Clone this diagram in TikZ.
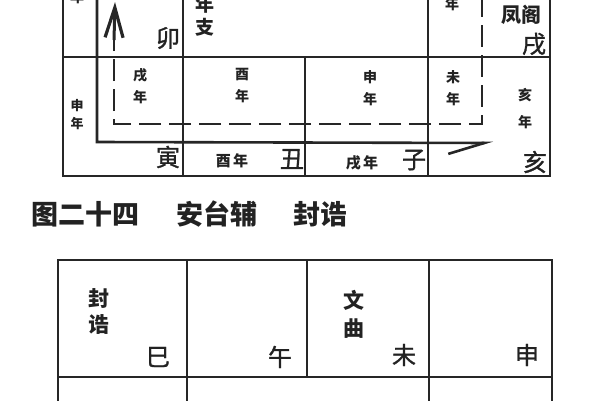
\documentclass[tikz,border=0pt]{standalone}
\usepackage{fontspec}
\newfontfamily\cjk{Noto Sans CJK SC}
\newfontfamily\cjkmed[FakeBold=1.2]{Noto Sans CJK SC}
\usetikzlibrary{arrows.meta}
\definecolor{ink}{HTML}{262626}
\definecolor{txt}{HTML}{222222}
\begin{document}
\begin{tikzpicture}[x=1pt,y=-1pt,
  grid/.style={line width=2.2pt, draw=ink, line cap=rect},
  dashline/.style={line width=2.6pt, draw=ink, dash pattern=on 22pt off 8pt},
  branch/.style={font=\cjkmed\fontsize{24}{24}\selectfont, text=txt, inner sep=0pt},
  yearlbl/.style={font=\cjk\bfseries\fontsize{14}{#1}\selectfont, align=center, text=txt, inner sep=0pt},
  yearlbl/.default=22,
  starlbl/.style={font=\cjk\bfseries\fontsize{21}{#1}\selectfont, align=center, text=txt, inner sep=0pt},
  starlbl/.default=26,
  caption/.style={font=\cjk\bfseries\fontsize{27}{27}\selectfont, text=txt, inner sep=0pt}]
\useasboundingbox (0,0) rectangle (600,400);
\clip (0,0) rectangle (600,400);
\fill[white] (0,0) rectangle (600,400);

% ---------- upper chart ----------
\draw[grid] (63,-5) -- (63,176) -- (550,176) -- (550,-5);
\draw[grid] (63,57) -- (550,57);
\draw[grid] (183,-5) -- (183,176);
\draw[grid] (305,57) -- (305,176);
\draw[grid] (428,-5) -- (428,176);

\coordinate (innertop) at (97,-5);
\coordinate (innercorner) at (97,142);
\coordinate (harptip) at (493,143);
\draw[grid, line width=2.6pt, -{Straight Barb[harpoon,swap,length=36pt,width=22pt,line width=2.6pt]}]
  (innertop) -- (innercorner) -- (harptip);

\coordinate (dstart) at (482,-5);
\coordinate (dturn1) at (482,124);
\coordinate (dturn2) at (114,124);
\coordinate (dend) at (114,40);
\coordinate (arrowtip) at (115,2);
\draw[dashline] (dstart) -- (dturn1) -- (dturn2) -- (dend);
\draw[line width=3pt, draw=ink, -{Straight Barb[length=30pt,width=18pt,line width=3.2pt]}] (dend) -- (arrowtip);

% partially visible labels at the top edge
\node[yearlbl] (cutA) at (77,-3) {年};
\node[yearlbl] (cutB) at (452,4) {年};
\node[starlbl=23, font=\cjk\bfseries\fontsize{19}{23}\selectfont] (nianzhi) at (205,16) {年\\支};

\node[branch] (mao) at (168,38) {卯};
\node[starlbl, font=\cjk\bfseries\fontsize{20}{20}\selectfont] (fengge) at (521,15) {凤阁};
\node[branch] (xu) at (534,44) {戌};

\node[yearlbl=18, font=\cjk\bfseries\fontsize{13}{18}\selectfont] (shenL) at (77,115) {申\\年};
\node[yearlbl] (xuY) at (140,86) {戌\\年};
\node[yearlbl] (youY) at (242,86) {酉\\年};
\node[yearlbl] (shenY) at (370,88) {申\\年};
\node[yearlbl] (weiY) at (453,88) {未\\年};
\node[yearlbl=27] (haiY) at (525,109) {亥\\年};

\node[branch] (yin) at (168,157) {寅};
\node[yearlbl, font=\cjk\bfseries\fontsize{15}{15}\selectfont] (youB) at (232,161) {酉\,年};
\node[branch] (chou) at (292,159) {丑};
\node[yearlbl, font=\cjk\bfseries\fontsize{15}{15}\selectfont] (xuB) at (362,163) {戌\,年};
\node[branch] (zi) at (414,160) {子};
\node[branch] (hai) at (535,162) {亥};

% ---------- caption ----------
\node[caption] (cap1) at (85,214) {图二十四};
\node[caption] (cap2) at (217,214) {安台辅};
\node[caption] (cap3) at (320,214) {封诰};

% ---------- lower chart ----------
\draw[grid] (58,405) -- (58,260) -- (552,260) -- (552,405);
\draw[grid] (58,377) -- (552,377);
\draw[grid] (187,260) -- (187,405);
\draw[grid] (307,260) -- (307,377);
\draw[grid] (429,260) -- (429,405);

\node[starlbl, font=\cjk\bfseries\fontsize{21}{26}\selectfont] (fenggao) at (99,311) {封\\诰};
\node[branch] (si) at (158,357) {巳};
\node[branch] (wu) at (280,357) {午};
\node[starlbl, font=\cjk\bfseries\fontsize{21}{28}\selectfont] (wenqu) at (354,314) {文\\曲};
\node[branch] (wei) at (404,355) {未};
\node[branch] (shen) at (527,355) {申};
\end{tikzpicture}
\end{document}
